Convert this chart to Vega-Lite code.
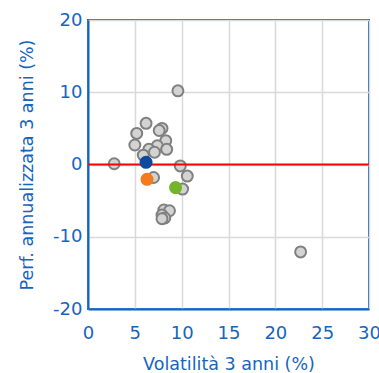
{
  "$schema": "https://vega.github.io/schema/vega-lite/v6.json",
  "width": 281,
  "height": 289,
  "padding": {"left": 18, "top": 11, "right": 0, "bottom": 0},
  "config": {
    "view": {"stroke": "#1565c0", "strokeWidth": 2},
    "font": "DejaVu Sans",
    "axis": {
      "domainColor": "#1565c0",
      "domainWidth": 2,
      "gridColor": "#d9d9d9",
      "gridWidth": 1.5,
      "ticks": false,
      "labelFlush": false,
      "labelOverlap": false,
      "labelColor": "#1565c0",
      "labelFontSize": 18,
      "labelFont": "DejaVu Sans",
      "titleColor": "#1565c0",
      "titleFontSize": 17.5,
      "titleFont": "DejaVu Sans",
      "titleFontWeight": "normal"
    }
  },
  "datasets": {
    "others": [
      {"vol": 9.6, "perf": 10.2},
      {"vol": 6.2, "perf": 5.7},
      {"vol": 7.9, "perf": 5.0},
      {"vol": 7.6, "perf": 4.7},
      {"vol": 5.2, "perf": 4.3},
      {"vol": 8.3, "perf": 3.3},
      {"vol": 5.0, "perf": 2.7},
      {"vol": 7.4, "perf": 2.6},
      {"vol": 6.5, "perf": 2.1},
      {"vol": 8.4, "perf": 2.1},
      {"vol": 5.9, "perf": 1.3},
      {"vol": 7.1, "perf": 1.7},
      {"vol": 2.8, "perf": 0.1},
      {"vol": 9.85, "perf": -0.2},
      {"vol": 10.6, "perf": -1.6},
      {"vol": 7.0, "perf": -1.8},
      {"vol": 10.1, "perf": -3.4},
      {"vol": 8.1, "perf": -6.3},
      {"vol": 8.7, "perf": -6.4},
      {"vol": 7.9, "perf": -7.0},
      {"vol": 8.2, "perf": -7.4},
      {"vol": 7.9, "perf": -7.5},
      {"vol": 22.7, "perf": -12.1}
    ],
    "highlight": [
      {"vol": 6.2, "perf": 0.3, "name": "A"},
      {"vol": 6.3, "perf": -2.05, "name": "B"},
      {"vol": 9.35, "perf": -3.2, "name": "C"}
    ],
    "zero": [{"perf": 0}]
  },
  "layer": [
    {
      "data": {"name": "others"},
      "mark": {"type": "point", "filled": true, "fill": "#d3d3d3", "stroke": "#808080", "strokeWidth": 2, "size": 120, "opacity": 1},
      "encoding": {
        "x": {"field": "vol", "type": "quantitative", "scale": {"domain": [0, 30], "nice": false}, "axis": {"values": [0, 5, 10, 15, 20, 25, 30], "title": "Volatilità 3 anni (%)", "labelPadding": 15, "titlePadding": 13}},
        "y": {"field": "perf", "type": "quantitative", "scale": {"domain": [-20, 20], "nice": false}, "axis": {"values": [-20, -10, 0, 10, 20], "labelExpr": "'' + datum.value", "title": "Perf. annualizzata 3 anni (%)", "labelPadding": 6, "titlePadding": 16}}
      }
    },
    {
      "data": {"name": "zero"},
      "mark": {"type": "rule", "color": "#ff0000", "strokeWidth": 2},
      "encoding": {"y": {"field": "perf", "type": "quantitative"}}
    },
    {
      "data": {"name": "highlight"},
      "mark": {"type": "point", "filled": true, "size": 170, "opacity": 1},
      "encoding": {
        "x": {"field": "vol", "type": "quantitative"},
        "y": {"field": "perf", "type": "quantitative"},
        "color": {"field": "name", "type": "nominal", "scale": {"domain": ["A", "B", "C"], "range": ["#0d4a9c", "#f47c20", "#72b52a"]}, "legend": null}
      }
    }
  ]
}
